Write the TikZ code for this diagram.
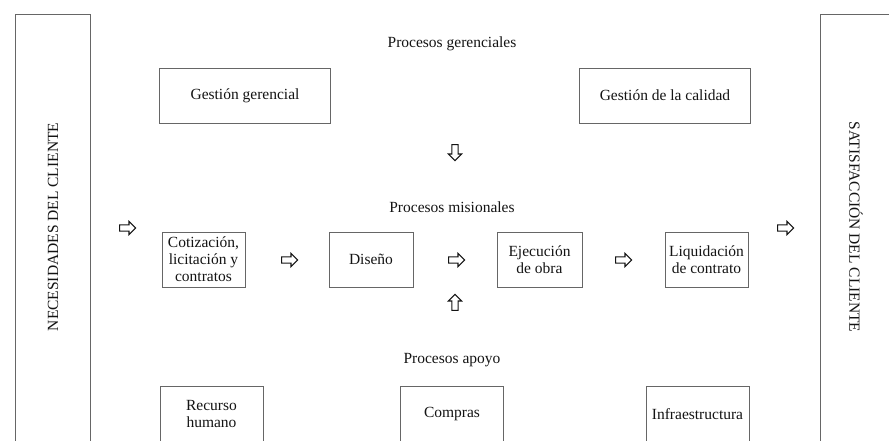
\documentclass[tikz,border=0pt]{standalone}
\usepackage{fontspec}
\setmainfont{Liberation Serif}
\usetikzlibrary{shapes.arrows}
\definecolor{boxcol}{HTML}{666666}
\definecolor{txtcol}{HTML}{141414}
\tikzset{
  box/.style={draw=boxcol, line width=1pt, rectangle, inner sep=1pt, align=center,
    text=txtcol, font=\fontsize{15.5}{17}\selectfont},
  head/.style={text=txtcol, font=\fontsize{15.5}{17}\selectfont, anchor=base, inner sep=0pt},
  hollowarrow/.style={single arrow, draw=txtcol, line width=1.1pt, inner sep=2.6pt,
    minimum height=16pt, single arrow head extend=3.4pt,
    single arrow head indent=0pt}
}
\begin{document}
\begin{tikzpicture}[x=1pt,y=-1pt]
\clip (0,0) rectangle (889,440);
\fill[white] (0,0) rectangle (889,440);
% side boxes
\draw[draw=boxcol, line width=1pt] (15,14) rectangle (90,450);
\draw[draw=boxcol, line width=1pt] (820,14) rectangle (895,450);
\node[text=txtcol, font=\fontsize{15.5}{17}\selectfont, rotate=90] (nec) at (53,227) {NECESIDADES DEL CLIENTE};
\node[text=txtcol, font=\fontsize{15.5}{17}\selectfont, rotate=-90] (sat) at (856,227) {SATISFACCIÓN DEL CLIENTE};
% headings
\node[head] (hg) at (452,47) {Procesos gerenciales};
\node[head] (hm) at (452,212) {Procesos misionales};
\node[head] (ha) at (452,363) {Procesos apoyo};
% top boxes
\node[box, minimum width=171pt, minimum height=55pt] (gg) at (245,95.5) {Gestión gerencial};
\node[box, minimum width=171pt, minimum height=55pt] (gc) at (665,95.5) {Gestión de la calidad};
% middle boxes
\node[box, minimum width=83pt, minimum height=55pt] (cot) at (203.5,259.5) {Cotización,\\licitación y\\contratos};
\node[box, minimum width=84pt, minimum height=55pt] (dis) at (371,259.5) {Diseño};
\node[box, minimum width=85pt, minimum height=55pt] (eje) at (539.5,259.5) {Ejecución\\de obra};
\node[box, minimum width=83pt, minimum height=55pt] (liq) at (706.5,259.5) {Liquidación\\de contrato};
% bottom boxes
\node[box, minimum width=103pt, minimum height=56pt] (rh) at (211.5,414) {Recurso\\humano};
\node[box, minimum width=103pt, minimum height=56pt] (com) at (452,414) {Compras};
\node[box, minimum width=103pt, minimum height=56pt] (inf) at (697.5,414) {Infraestructura};
% arrows
\node[hollowarrow] (a1) at (126,228) {};
\node[hollowarrow] (a2) at (784,228) {};
\node[hollowarrow] (a3) at (288,260) {};
\node[hollowarrow] (a4) at (455,260) {};
\node[hollowarrow] (a5) at (622,260) {};
\node[hollowarrow, shape border rotate=270] (ad) at (455,151) {};
\node[hollowarrow, shape border rotate=90] (au) at (455,304) {};
\end{tikzpicture}
\end{document}
